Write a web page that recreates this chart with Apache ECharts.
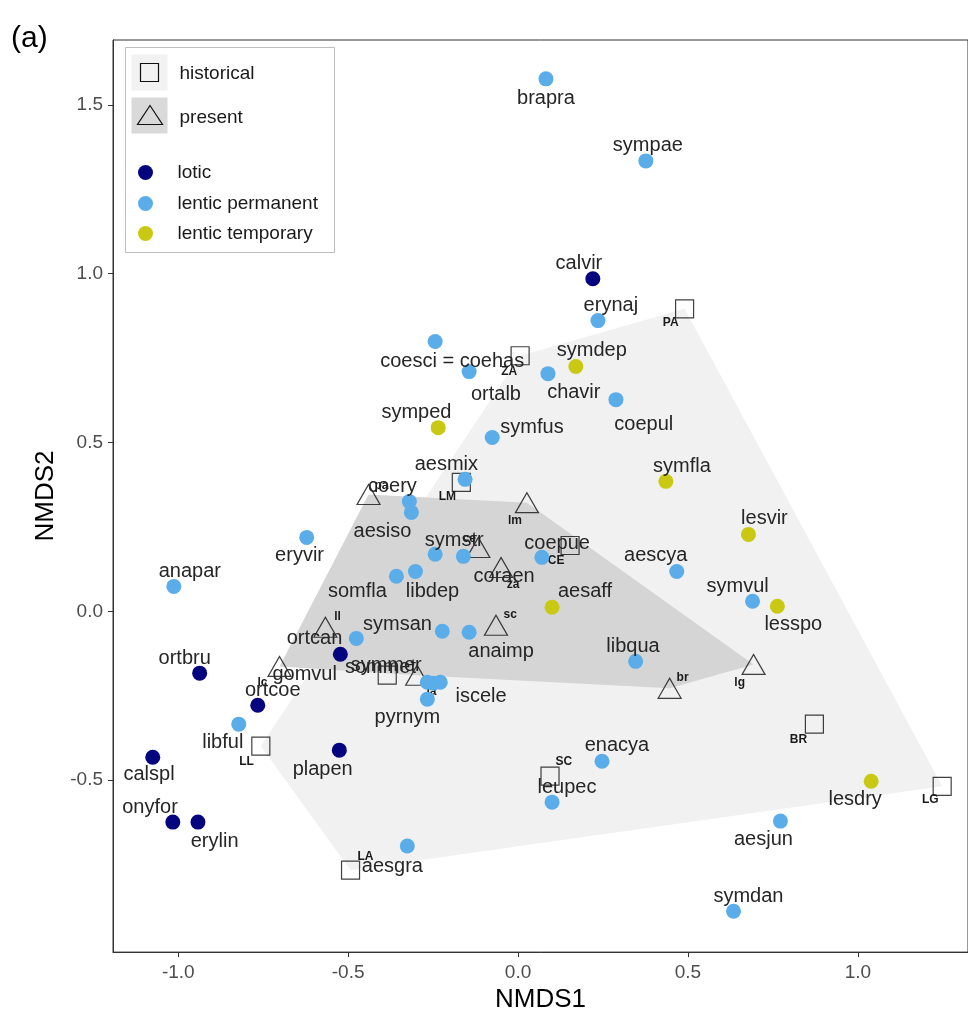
<!DOCTYPE html>
<html>
<head>
<meta charset="utf-8">
<script src="https://cdn.jsdelivr.net/npm/echarts@6/dist/echarts.min.js"></script>
<style>
html,body{margin:0;padding:0;background:#fff;}
#chart{width:968px;height:1018px;}
</style>
</head>
<body>
<div id="chart"></div>
<script>
// ---------------- DATA ----------------
const xTickValues = [-1.0, -0.5, 0.0, 0.5, 1.0];
const yTickValues = [-0.5, 0.0, 0.5, 1.0, 1.5];

const speciesNames = ["brapra","sympae","calvir","erynaj","coesci = coehas","ortalb","symdep","chavir","coepul","symped",
  "symfus","aesmix","symfla","lesvir","aescya","symvul","lesspo","aesaff","libqua","coepue",
  "symstr","coraen","somfla","libdep","eryvir","anapar","coery","aesiso","symsan","anaimp",
  "ortcan","gomvul","ortbru","ortcoe","libful","calspl","onyfor","erylin","plapen","aesgra",
  "sommet","symmer","iscele","pyrnym","enacya","leupec","lesdry","aesjun","symdan"];
const speciesGroup = ["lentic permanent","lentic permanent","lotic","lentic permanent","lentic permanent","lentic permanent","lentic temporary","lentic permanent","lentic permanent","lentic temporary",
  "lentic permanent","lentic permanent","lentic temporary","lentic temporary","lentic permanent","lentic permanent","lentic temporary","lentic temporary","lentic permanent","lentic permanent",
  "lentic permanent","lentic permanent","lentic permanent","lentic permanent","lentic permanent","lentic permanent","lentic permanent","lentic permanent","lentic permanent","lentic permanent",
  "lentic permanent","lotic","lotic","lotic","lentic permanent","lotic","lotic","lotic","lotic","lentic permanent",
  "lentic permanent","lentic permanent","lentic permanent","lentic permanent","lentic permanent","lentic permanent","lentic temporary","lentic permanent","lentic permanent"];
const speciesX = [0.082,0.376,0.220,0.235,-0.244,-0.144,0.170,0.088,0.288,-0.235,
  -0.076,-0.156,0.435,0.678,0.467,0.690,0.763,0.100,0.346,0.070,
  -0.244,-0.161,-0.358,-0.302,-0.622,-1.013,-0.320,-0.314,-0.223,-0.144,
  -0.476,-0.523,-0.937,-0.766,-0.822,-1.075,-1.016,-0.942,-0.526,-0.326,
  -0.267,-0.250,-0.229,-0.267,0.247,0.100,1.039,0.772,0.634];
const speciesY = [1.577,1.334,0.985,0.861,0.799,0.710,0.725,0.704,0.627,0.544,
  0.515,0.391,0.385,0.228,0.118,0.030,0.015,0.012,-0.148,0.160,
  0.169,0.163,0.104,0.118,0.219,0.074,0.325,0.293,-0.059,-0.062,
  -0.080,-0.127,-0.183,-0.278,-0.334,-0.432,-0.624,-0.624,-0.411,-0.695,
  -0.210,-0.213,-0.210,-0.260,-0.444,-0.565,-0.503,-0.621,-0.888];
// repelled label anchor positions (data units)
const speciesLabelX = [0.082,0.382,0.179,0.273,-0.194,-0.065,0.217,0.164,0.370,-0.299,
  0.041,-0.211,0.482,0.725,0.405,0.646,0.810,0.197,0.338,0.115,
  -0.188,-0.041,-0.473,-0.252,-0.643,-0.966,-0.370,-0.399,-0.355,-0.050,
  -0.599,-0.628,-0.981,-0.722,-0.869,-1.086,-1.083,-0.893,-0.575,-0.370,
  -0.405,-0.388,-0.109,-0.326,0.291,0.144,0.992,0.722,0.678];
const speciesLabelY = [1.518,1.379,1.030,0.905,0.740,0.642,0.772,0.648,0.553,0.589,
  0.544,0.435,0.429,0.275,0.166,0.074,-0.038,0.059,-0.104,0.201,
  0.210,0.104,0.059,0.059,0.166,0.118,0.370,0.237,-0.038,-0.118,
  -0.080,-0.186,-0.139,-0.234,-0.388,-0.482,-0.580,-0.680,-0.467,-0.754,
  -0.166,-0.160,-0.251,-0.314,-0.396,-0.521,-0.556,-0.675,-0.843];

const historicalNames = ["PA","ZA","LM","CE","BR","LG","SC","LA","LL",""];
const historicalX = [0.490,0.006,-0.167,0.153,0.872,1.248,0.094,-0.493,-0.757,-0.385];
const historicalY = [0.896,0.757,0.382,0.195,-0.334,-0.518,-0.488,-0.766,-0.399,-0.189];
const historicalLabelX = [0.449,-0.026,-0.208,0.112,0.825,1.213,0.135,-0.449,-0.799,-0.385];
const historicalLabelY = [0.855,0.710,0.340,0.151,-0.379,-0.559,-0.444,-0.725,-0.444,-0.189];

const presentNames = ["pa","lm","ce","za","sc","ll","lc","la","br","lg"];
const presentX = [-0.440,0.026,-0.117,-0.050,-0.065,-0.567,-0.702,-0.297,0.446,0.693];
const presentY = [0.346,0.322,0.189,0.130,-0.041,-0.047,-0.163,-0.189,-0.228,-0.157];
const presentLabelX = [-0.402,-0.009,-0.144,-0.015,-0.023,-0.531,-0.752,-0.255,0.484,0.652];
const presentLabelY = [0.373,0.269,0.216,0.080,-0.009,-0.015,-0.210,-0.237,-0.195,-0.210];

const groupNames = ["lotic","lentic permanent","lentic temporary"];
// ---------------- STYLE ----------------
const groupColors = {"lotic":"#04047e","lentic permanent":"#5aade9","lentic temporary":"#c9c914"};
const FONT = "'Liberation Sans', Arial, Helvetica, sans-serif";

// convex hull (monotone chain)
function convexHull(xs, ys){
  const pts = xs.map((x,i)=>[x, ys[i]]).sort((a,b)=>a[0]-b[0] || a[1]-b[1]);
  const cross=(o,a,b)=>(a[0]-o[0])*(b[1]-o[1])-(a[1]-o[1])*(b[0]-o[0]);
  const lower=[], upper=[];
  for(const p of pts){ while(lower.length>=2 && cross(lower[lower.length-2],lower[lower.length-1],p)<=0) lower.pop(); lower.push(p); }
  for(let i=pts.length-1;i>=0;i--){ const p=pts[i]; while(upper.length>=2 && cross(upper[upper.length-2],upper[upper.length-1],p)<=0) upper.pop(); upper.push(p); }
  upper.pop(); lower.pop();
  return lower.concat(upper);
}
const hullHist = convexHull(historicalX, historicalY);
const hullPres = convexHull(presentX, presentY);

function hullSeries(pts, fill, z){
  return {type:'custom', silent:true, z:z, data: pts, encode:{x:0,y:1},
    renderItem:(params, api)=>{
      if(params.dataIndex!==0) return null;
      return {type:'polygon', shape:{points: pts.map(p=>api.coord(p))}, style:{fill:fill, stroke:null}};
    }};
}
function textSeries(names, lx, ly, font, color, z){
  return {type:'custom', silent:true, z:z, data: lx.map((x,i)=>[x, ly[i]]), encode:{x:0,y:1},
    renderItem:(params, api)=>{
      const p = api.coord([api.value(0), api.value(1)]);
      return {type:'text', x:p[0], y:p[1], style:{text:names[params.dataIndex], font:font, fill:color, align:'center', verticalAlign:'middle'}};
    }};
}

const series = [];
series.push(hullSeries(hullHist, '#f1f1f1', 1));
series.push(hullSeries(hullPres, '#d5d5d5', 2));
series.push({type:'scatter', name:'historical', z:3, symbol:'rect', symbolSize:18,
  data: historicalX.map((x,i)=>[x, historicalY[i]]),
  itemStyle:{color:'rgba(0,0,0,0)', borderColor:'#111', borderWidth:1.2}});
series.push({type:'scatter', name:'present', z:3, symbol:'triangle', symbolSize:[23,20],
  data: presentX.map((x,i)=>[x, presentY[i]]),
  itemStyle:{color:'rgba(0,0,0,0)', borderColor:'#111', borderWidth:1.2}});
series.push(textSeries(historicalNames, historicalLabelX, historicalLabelY, 'bold 12px '+FONT, '#1a1a1a', 4));
series.push(textSeries(presentNames, presentLabelX, presentLabelY, 'bold 12px '+FONT, '#1a1a1a', 4));
groupNames.forEach(g=>{
  const d=[]; speciesNames.forEach((n,i)=>{ if(speciesGroup[i]===g) d.push([speciesX[i], speciesY[i]]); });
  series.push({type:'scatter', name:g, z:5, symbol:'circle', symbolSize:15, data:d,
    itemStyle:{color:groupColors[g], opacity:1}});
});
series.push(textSeries(speciesNames, speciesLabelX, speciesLabelY, '20px '+FONT, '#262626', 6));

const chart = echarts.init(document.getElementById('chart'), null, {renderer:'canvas'});
chart.setOption({
  animation:false,
  backgroundColor:'#ffffff',
  grid:{left:113, top:40, right:-2, bottom:65, show:true, borderColor:'#333', borderWidth:1, backgroundColor:'#fff'},
  xAxis:{type:'value', min:-1.192, max:1.324, name:'NMDS1', nameLocation:'middle', nameGap:33,
    nameTextStyle:{fontSize:26, color:'#000', fontFamily:FONT},
    axisLine:{show:true, onZero:false, lineStyle:{color:'#333', width:1}},
    axisTick:{show:true, length:5, lineStyle:{color:'#333'}, customValues:xTickValues},
    axisLabel:{customValues:xTickValues, formatter:v=>v.toFixed(1), fontSize:19, color:'#4d4d4d', fontFamily:FONT, margin:11},
    splitLine:{show:false}},
  yAxis:{type:'value', min:-1.009, max:1.692, name:'NMDS2', nameLocation:'middle', nameGap:54, nameRotate:90,
    nameTextStyle:{fontSize:26, color:'#000', fontFamily:FONT},
    axisLine:{show:true, onZero:false, lineStyle:{color:'#333', width:1}},
    axisTick:{show:true, length:5, lineStyle:{color:'#333'}, customValues:yTickValues},
    axisLabel:{customValues:yTickValues, formatter:v=>v.toFixed(1), fontSize:19, color:'#4d4d4d', fontFamily:FONT, margin:10},
    splitLine:{show:false}},
  series: series,
  graphic:[
    {type:'text', left:11, top:24, style:{text:'(a)', font:'30px '+FONT, fill:'#000'}},
    {type:'group', left:125, top:47, z:100, children:[
      {type:'rect', shape:{x:0,y:0,width:209,height:205}, style:{fill:'#fff', stroke:'#bdbdbd', lineWidth:1}},
      {type:'rect', shape:{x:6,y:7,width:36,height:36}, style:{fill:'#f2f2f2'}},
      {type:'rect', shape:{x:15,y:16,width:18,height:18}, style:{fill:'none', stroke:'#111', lineWidth:1.2}},
      {type:'text', x:54, y:26, style:{text:'historical', font:'19px '+FONT, fill:'#1a1a1a', verticalAlign:'middle'}},
      {type:'rect', shape:{x:6,y:50,width:36,height:36}, style:{fill:'#d9d9d9'}},
      {type:'polygon', shape:{points:[[24.5,58],[12,77],[37,77]]}, style:{fill:'none', stroke:'#111', lineWidth:1.2}},
      {type:'text', x:54, y:70, style:{text:'present', font:'19px '+FONT, fill:'#1a1a1a', verticalAlign:'middle'}},
      {type:'circle', shape:{cx:20,cy:125,r:7.5}, style:{fill:groupColors['lotic']}},
      {type:'text', x:52, y:125, style:{text:groupNames[0], font:'19px '+FONT, fill:'#1a1a1a', verticalAlign:'middle'}},
      {type:'circle', shape:{cx:20,cy:156,r:7.5}, style:{fill:groupColors['lentic permanent']}},
      {type:'text', x:52, y:156, style:{text:groupNames[1], font:'19px '+FONT, fill:'#1a1a1a', verticalAlign:'middle'}},
      {type:'circle', shape:{cx:20,cy:186,r:7.5}, style:{fill:groupColors['lentic temporary']}},
      {type:'text', x:52, y:186, style:{text:groupNames[2], font:'19px '+FONT, fill:'#1a1a1a', verticalAlign:'middle'}}
    ]}
  ]
});
</script>
</body>
</html>
